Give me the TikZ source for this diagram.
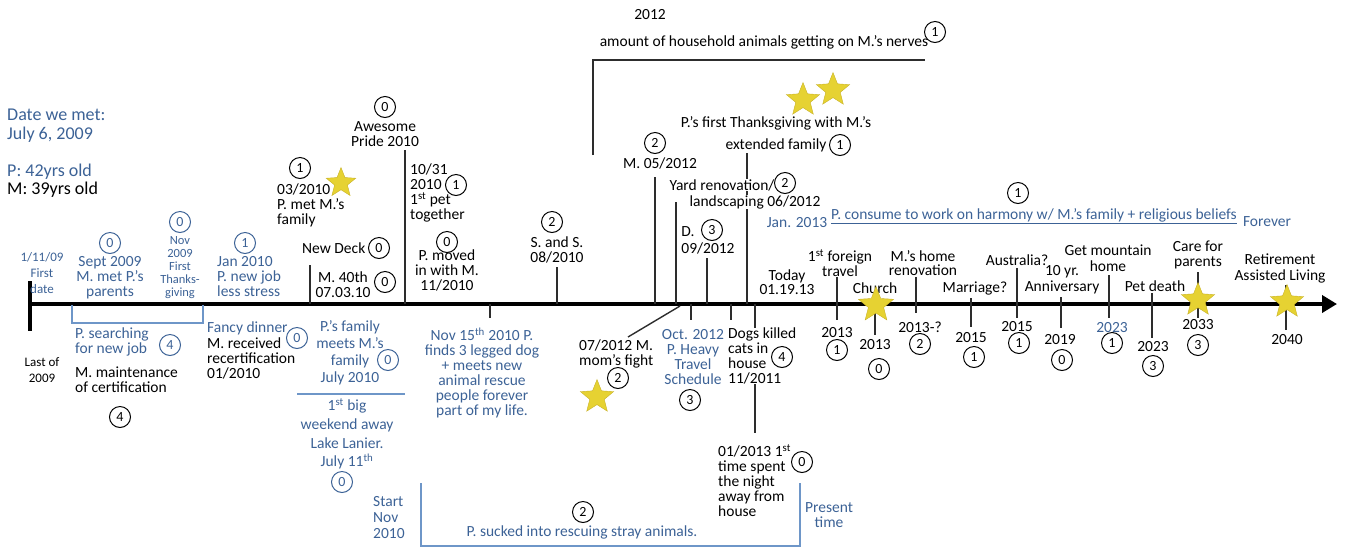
\documentclass[tikz,border=0pt]{standalone}
\usepackage{fontspec}
\setmainfont{Carlito}
\usetikzlibrary{shapes.geometric,arrows.meta}
\definecolor{tblue}{RGB}{60,98,150}
\definecolor{lblue}{RGB}{110,150,200}
\definecolor{stary}{RGB}{230,210,50}
\definecolor{stard}{RGB}{200,178,40}
\definecolor{tline}{RGB}{45,45,45}
\newcommand{\lbl}{\fontsize{15.5}{16}\selectfont}
\newcommand{\sml}{\fontsize{13}{16}\selectfont}
\newcommand{\hdr}{\fontsize{18}{19}\selectfont}

\begin{document}
\begin{tikzpicture}[x=1pt,y=-1pt,
  every node/.style={font=\lbl,inner sep=1pt},
  cnum/.style={circle,draw,line width=1pt,inner sep=0pt,minimum size=21pt,font=\fontsize{14}{14}\selectfont},
  bnum/.style={cnum,draw=tblue,text=tblue},
  gstar/.style={star,star points=5,star point ratio=2.3,fill=stary,draw=stard,inner sep=0pt,minimum size=35pt},
  tick/.style={draw=tline,line width=1.4pt},
  btxt/.style={text=tblue},
  bracket/.style={draw=lblue,line width=1.2pt}]
\useasboundingbox (0,0) rectangle (1346,550);
\draw [line width=4pt,-{Triangle[length=15pt,width=17pt]}] (28,304) -- (1337,304);
\draw [line width=3.5pt] (30,281) -- (30,331);
\draw [tick] (310,265) -- (310,304);
\draw [tick] (405,150) -- (405,304);
\draw [tick] (490,304) -- (490,318);
\draw [tick] (557,267) -- (557,304);
\draw [tick] (655,177) -- (655,304);
\draw [tick] (676,202) -- (676,304);
\draw [tick] (707,258) -- (707,304);
\draw [tick] (747,153) -- (747,304);
\draw [tick] (680,306) -- (628,337);
\draw [tick] (691,304) -- (691,320);
\draw [tick] (731,304) -- (731,320);
\draw [tick] (755,304) -- (755,433);
\draw [tick] (837,277) -- (837,320);
\draw [tick] (875,304) -- (875,335);
\draw [tick] (916,277) -- (916,313);
\draw [tick] (971,298) -- (971,327);
\draw [tick] (1017,268) -- (1017,318);
\draw [tick] (1061,297) -- (1061,328);
\draw [tick] (1109,275) -- (1109,318);
\draw [tick] (1152,293) -- (1152,338);
\draw [tick] (1198,272) -- (1198,318);
\draw [tick] (1286,285) -- (1286,330);
\draw [tick] (593,155) -- (593,60) -- (925,60);
\draw [bracket] (72,305) -- (72,323) -- (203,323) -- (203,305);
\draw [bracket] (297,394) -- (405,394);
\draw [bracket] (421,483) -- (421,546) -- (800,546) -- (800,483);

\node [btxt,align=left,anchor=west,font=\hdr] (met) at (6,126) {Date we met:\\July 6, 2009};
\node [btxt,anchor=west,font=\hdr] (agep) at (6,172) {P: 42yrs old};
\node [anchor=west,font=\hdr] (agem) at (6,190) {M: 39yrs old};
\node [btxt,align=center,font=\sml] (first) at (42,273) {1/11/09\\First\\date};
\node [align=center,font=\sml] (last) at (42,370) {Last of\\2009};
\node [bnum] (n1) at (110,243) {0};
\node [btxt,align=center,font=\fontsize{15.5}{15}\selectfont] (sept) at (110,278) {Sept 2009\\M. met P.'s\\parents};
\node [bnum] (n2) at (180,222) {0};
\node [btxt,align=center,font=\fontsize{12.5}{13}\selectfont] (nov) at (180,268) {Nov\\2009\\First\\Thanks-\\giving};
\node [bnum] (n3) at (245,243) {1};
\node [btxt,align=left,anchor=west,font=\fontsize{15.5}{15}\selectfont] (jan) at (216,277) {Jan 2010\\P. new job\\less stress};
\node [btxt,align=left,anchor=west,font=\fontsize{15.5}{15}\selectfont] (search) at (74,342) {P. searching\\for new job};
\node [bnum] (n4) at (170,345) {4};
\node [align=left,anchor=west,font=\fontsize{15.5}{15}\selectfont] (maint) at (74,380) {M. maintenance\\of certification};
\node [cnum] (n5) at (120,417) {4};
\node [btxt,anchor=west] (fancy) at (206,328) {Fancy dinner};
\node [align=left,anchor=west,font=\fontsize{15.5}{15}\selectfont] (recert) at (206,358) {M. received\\recertification\\01/2010};
\node [bnum] (n6) at (297,338) {0};

\node [cnum] (n7) at (300,168) {1};
\node [align=left,anchor=west,font=\fontsize{15.5}{15}\selectfont] (metfam) at (276,205) {03/2010\\P. met M.'s\\family};
\node [gstar,minimum size=31pt] (s1) at (341,183) {};
\node [anchor=west] (deck) at (301,248) {New Deck};
\node [cnum] (n8) at (379,248) {0};
\node [align=center,font=\fontsize{15.5}{15}\selectfont] (m40) at (343,285) {M. 40th\\07.03.10};
\node [cnum] (n9) at (385,282) {0};
\node [cnum] (n10) at (385,107) {0};
\node [align=center,font=\fontsize{15.5}{15}\selectfont] (pride) at (385,134) {Awesome\\Pride 2010};
\node [align=left,anchor=west,font=\fontsize{15.5}{15}\selectfont] (pet) at (409,193) {10/31\\2010\\1\textsuperscript{st} pet\\together};
\node [cnum] (n11) at (456,185) {1};
\node [cnum] (n12) at (447,242) {0};
\node [align=center,font=\fontsize{15.5}{15}\selectfont] (moved) at (447,270) {P. moved\\in with M.\\11/2010};

\node [btxt,align=center,font=\fontsize{15.5}{17}\selectfont] (fam) at (350,353) {P.'s family\\meets M.'s\\family\\July 2010};
\node [bnum] (n13) at (388,360) {0};
\node [btxt,align=center,font=\fontsize{15.5}{18.6}\selectfont] (lake) at (347,434) {1\textsuperscript{st} big\\weekend away\\Lake Lanier.\\July 11\textsuperscript{th}};
\node [bnum] (n14) at (342,482) {0};
\node [btxt,align=center,font=\fontsize{15.5}{15}\selectfont] (dog) at (482,373) {Nov 15\textsuperscript{th} 2010 P.\\finds 3 legged dog\\+ meets new\\animal rescue\\people forever\\part of my life.};
\node [btxt,align=left,anchor=west] (start) at (372,518) {Start\\Nov\\2010};
\node [cnum] (n15) at (583,512) {2};
\node [btxt] (sucked) at (582,532) {P. sucked into rescuing stray animals.};
\node [btxt,align=center,font=\fontsize{15.5}{15}\selectfont] (present) at (829,515) {Present\\time};

\node [cnum] (n16) at (552,222) {2};
\node [align=center,font=\fontsize{15.5}{15}\selectfont] (sands) at (557,250) {S. and S.\\08/2010};
\node (y2012) at (650,15) {2012};
\node (nerves) at (764,42) {amount of household animals getting on M.'s nerves};
\node [cnum] (n17) at (935,32) {1};
\node [gstar] (s2) at (803,100) {};
\node [gstar] (s3) at (833,90) {};
\node (thanks) at (776,123) {P.'s first Thanksgiving with M.'s};
\node (extfam) at (776,145) {extended family};
\node [cnum] (n18) at (840,145) {1};
\node [cnum] (n19) at (655,143) {2};
\node (m05) at (660,163) {M. 05/2012};
\node [fill=white,inner sep=0pt] (yard) at (722,185) {Yard renovation/};
\node [cnum,fill=white] (n20) at (785,183) {2};
\node [fill=white,inner sep=0pt] (land) at (755,202) {landscaping 06/2012};
\node (dd) at (688,232) {D.};
\node [cnum] (n21) at (712,230) {3};
\node (d09) at (708,248) {09/2012};
\node [align=center,font=\fontsize{15.5}{14}\selectfont] (today) at (787,282) {Today\\01.19.13};

\node [align=left,anchor=west,font=\fontsize{15.5}{15}\selectfont] (mom) at (578,354) {07/2012 M.\\mom's fight};
\node [cnum] (n22) at (618,378) {2};
\node [gstar] (s4) at (597,397) {};
\node [btxt,align=center,font=\fontsize{15.5}{15}\selectfont] (oct) at (693,357) {Oct. 2012\\P. Heavy\\Travel\\Schedule};
\node [cnum] (n23) at (690,400) {3};
\node [fill=white,align=left,anchor=west,inner sep=0pt,font=\fontsize{15.5}{15}\selectfont] (dogs) at (728,356) {Dogs killed\\cats in\\house\\11/2011};
\node [cnum,fill=white] (n24) at (782,357) {4};
\node [align=left,anchor=west,font=\fontsize{15.5}{15}\selectfont] (night) at (717,481) {01/2013 1\textsuperscript{st}\\time spent\\the night\\away from\\house};
\node [cnum] (n25) at (802,462) {0};

\node [btxt] (jan13) at (797,223) {Jan. 2013};
\node [btxt] (harm) at (1034,216) {\underline{P. consume to work on harmony w/ M.'s family + religious beliefs}};
\node [cnum] (n26) at (1018,193) {1};
\node [btxt] (forever) at (1267,222) {Forever};

\node [align=center,font=\fontsize{15.5}{14.5}\selectfont] (foreign) at (840,263) {1\textsuperscript{st} foreign\\travel};
\node (f13) at (837,333) {2013};
\node [cnum] (n27) at (837,350) {1};
\node (church) at (875,288) {Church};
\node [gstar,minimum size=37pt] (s5) at (876,305) {};
\node (c13) at (875,345) {2013};
\node [cnum] (n28) at (879,369) {0};
\node [align=center,font=\fontsize{15.5}{14.5}\selectfont] (renov) at (923,263) {M.'s home\\renovation};
\node (r13) at (920,327) {2013-?};
\node [cnum] (n29) at (920,344) {2};
\node (marr) at (975,288) {Marriage?};
\node (m15) at (971,338) {2015};
\node [cnum] (n30) at (974,357) {1};
\node (aus) at (1017,260) {Australia?};
\node (a15) at (1017,327) {2015};
\node [cnum] (n31) at (1019,343) {1};
\node [align=center] (anniv) at (1062,280) {10 yr.\\Anniversary};
\node (a19) at (1060,340) {2019};
\node [cnum] (n32) at (1062,360) {0};
\node [align=center] (mount) at (1108,258) {Get mountain\\home};
\node [btxt] (g23) at (1112,328) {2023};
\node [cnum] (n33) at (1112,343) {1};
\node (petd) at (1155,286) {Pet death};
\node (p23) at (1153,347) {2023};
\node [cnum] (n34) at (1153,366) {3};
\node [align=center,font=\fontsize{15.5}{15}\selectfont] (care) at (1198,255) {Care for\\parents};
\node [gstar] (s6) at (1198,300) {};
\node (c33) at (1198,325) {2033};
\node [cnum] (n35) at (1198,345) {3};
\node [align=center] (retire) at (1280,268) {Retirement\\Assisted Living};
\node [gstar] (s7) at (1287,302) {};
\node (r40) at (1287,340) {2040};
\end{tikzpicture}
\end{document}
